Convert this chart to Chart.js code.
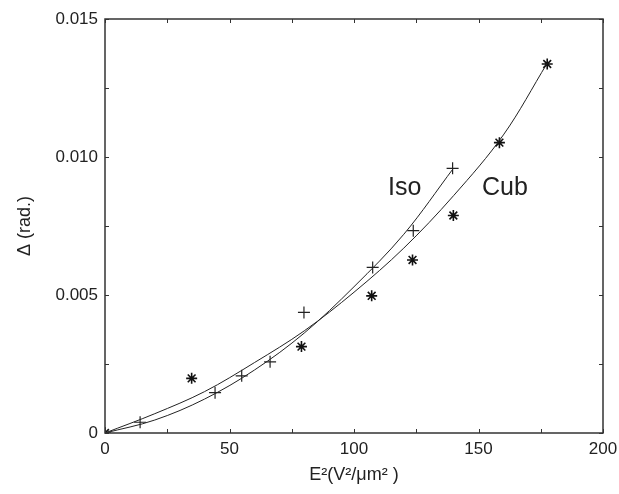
<!DOCTYPE html>
<html>
<head>
<meta charset="utf-8">
<script src="https://cdn.jsdelivr.net/npm/chart.js@4/dist/chart.umd.min.js"></script>
<style>
  html, body { margin: 0; padding: 0; background: #fff; }
  #wrap { width: 619px; height: 494px; }
</style>
</head>
<body>
<div id="wrap"><canvas id="chart" width="619" height="494"></canvas></div>
<script>
// measured points (+ = Iso, * = Cub)
const isoX = [0, 14.1, 44.2, 54.9, 66.3, 79.9, 107.5, 123.8, 139.6];
const isoY = [0, 0.00039, 0.00146, 0.00207, 0.00258, 0.00437, 0.0060, 0.00733, 0.00959];
const cubX = [0, 34.8, 78.9, 107.1, 123.5, 139.9, 158.4, 177.6];
const cubY = [0, 0.00198, 0.00313, 0.00497, 0.00627, 0.00788, 0.01052, 0.01337];

// fitted curves
const isoCurveX = [0, 20, 40, 60, 80, 100, 120, 140];
const isoCurveY = [0, 0.00047, 0.00123, 0.00228, 0.00362, 0.0053, 0.0072, 0.0096];
const cubCurveX = [0, 20, 40, 60, 80, 100, 120, 140, 160, 177.6];
const cubCurveY = [0, 0.0007, 0.0015, 0.00255, 0.0037, 0.0051, 0.0067, 0.0086, 0.0108, 0.0134];

// axis ticks
const xTicks = [0, 50, 100, 150, 200];
const xMinor = [0, 25, 50, 75, 100, 125, 150, 175, 200];
const yTicks = [0, 0.005, 0.010, 0.015];
const yMinor = [0, 0.0025, 0.005, 0.0075, 0.010, 0.0125, 0.015];

// curve labels
const curveLabels = [
    { text: 'Iso', x: 113.7, y: 0.00862 },
    { text: 'Cub', x: 151.4, y: 0.00862 }
];

const ink = '#222';
const font = '"Liberation Sans", Arial, Helvetica, sans-serif';

function pairs(xs, ys) {
    return xs.map((x, i) => ({ x: x, y: ys[i] }));
}

// frame, inward ticks on all four sides, curve labels
const framePlugin = {
    id: 'frame',
    afterDatasetsDraw(chart) {
        const ctx = chart.ctx;
        const a = chart.chartArea;
        const xs = chart.scales.x, ys = chart.scales.y;
        const len = 4;
        ctx.save();
        ctx.strokeStyle = '#333';
        ctx.lineWidth = 1.5;
        ctx.strokeRect(a.left, a.top, a.right - a.left, a.bottom - a.top);
        ctx.lineWidth = 1;
        ctx.beginPath();
        xMinor.forEach(v => {
            const px = Math.round(xs.getPixelForValue(v)) + 0.5;
            ctx.moveTo(px, a.bottom); ctx.lineTo(px, a.bottom - len);
            ctx.moveTo(px, a.top); ctx.lineTo(px, a.top + len);
        });
        yMinor.forEach(v => {
            const py = Math.round(ys.getPixelForValue(v)) + 0.5;
            ctx.moveTo(a.left, py); ctx.lineTo(a.left + len, py);
            ctx.moveTo(a.right, py); ctx.lineTo(a.right - len, py);
        });
        ctx.stroke();

        ctx.fillStyle = ink;
        ctx.font = '25px ' + font;
        ctx.textAlign = 'left';
        ctx.textBaseline = 'alphabetic';
        curveLabels.forEach(l => {
            ctx.fillText(l.text, xs.getPixelForValue(l.x), ys.getPixelForValue(l.y));
        });
        ctx.restore();
    }
};

const ctx = document.getElementById('chart').getContext('2d');
new Chart(ctx, {
    type: 'scatter',
    data: {
        datasets: [
            {
                label: 'Cub fit',
                data: pairs(cubCurveX, cubCurveY),
                showLine: true,
                borderColor: ink,
                borderWidth: 1,
                pointRadius: 0,
                tension: 0.35
            },
            {
                label: 'Iso fit',
                data: pairs(isoCurveX, isoCurveY),
                showLine: true,
                borderColor: ink,
                borderWidth: 1,
                pointRadius: 0,
                tension: 0.35
            },
            {
                label: 'Iso',
                data: pairs(isoX, isoY),
                pointStyle: 'cross',
                pointRadius: 6,
                borderColor: ink,
                borderWidth: 1.2,
                backgroundColor: ink
            },
            {
                label: 'Cub',
                data: pairs(cubX, cubY),
                pointStyle: 'star',
                pointRadius: 5.5,
                borderColor: '#111',
                borderWidth: 1.6,
                backgroundColor: '#111'
            }
        ]
    },
    options: {
        responsive: false,
        animation: false,
        layout: { padding: { left: 0, right: 16, top: 19, bottom: 0 } },
        plugins: {
            legend: { display: false },
            tooltip: { enabled: false }
        },
        scales: {
            x: {
                type: 'linear',
                min: 0,
                max: 200,
                afterBuildTicks: s => { s.ticks = xTicks.map(v => ({ value: v })); },
                afterFit: s => {
                    s.height = 61;
                    s.paddingLeft = 0;
                    s.paddingRight = 0;
                },
                grid: { display: false, drawTicks: false },
                border: { display: false },
                ticks: {
                    padding: 6,
                    color: ink,
                    font: { family: font, size: 17 },
                    maxRotation: 0
                },
                title: {
                    display: true,
                    text: 'E\u00B2(V\u00B2/\u03BCm\u00B2 )',
                    color: ink,
                    font: { family: font, size: 18 },
                    padding: { top: 0, bottom: 8 }
                }
            },
            y: {
                type: 'linear',
                min: 0,
                max: 0.015,
                afterBuildTicks: s => { s.ticks = yTicks.map(v => ({ value: v })); },
                afterFit: s => {
                    s.width = 105;
                    s.paddingTop = 0;
                    s.paddingBottom = 0;
                },
                grid: { display: false, drawTicks: false },
                border: { display: false },
                ticks: {
                    padding: 7,
                    color: ink,
                    font: { family: font, size: 17 },
                    callback: v => v === 0 ? '0' : v.toFixed(3)
                },
                title: {
                    display: true,
                    text: '\u0394 (rad.)',
                    color: ink,
                    font: { family: font, size: 18 },
                    padding: { top: 14, bottom: 0 }
                }
            }
        }
    },
    plugins: [framePlugin]
});
</script>
</body>
</html>
